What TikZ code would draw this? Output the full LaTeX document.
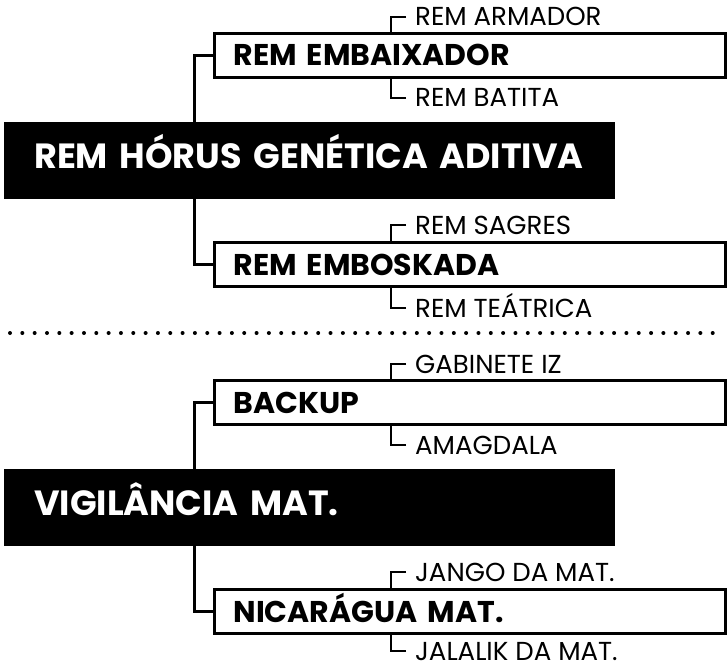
\documentclass[tikz,border=0pt]{standalone}
\usepackage{fontspec}
\setmainfont{Poppins}

\begin{document}
\begin{tikzpicture}[x=1pt,y=-1pt,
    root/.style={fill=black,text=white,anchor=west,align=left,
        font=\bfseries\fontsize{35}{35}\selectfont,
        minimum height=77pt,text width=551pt,inner xsep=30pt,
        text height=24.5pt,text depth=8pt},
    branch/.style={draw,line width=3pt,anchor=west,align=left,
        font=\bfseries\fontsize{30}{30}\selectfont,
        minimum height=44pt,text width=472pt,inner xsep=19.5pt,
        text height=21pt,text depth=0pt},
    leaf/.style={anchor=west,inner sep=0pt,
        font=\fontsize{26}{26}\selectfont,
        text height=18pt,text depth=0pt},
    link/.style={line width=3pt},
    tick/.style={line width=2.5pt},
    sep/.style={line width=4pt,line cap=round,dash pattern=on 0pt off 12.328pt}]
    \useasboundingbox (0,0) rectangle (727,668);

    \coordinate (trunk) at (194,0);
    \coordinate (fork) at (391,0);

    % first group
    \node[root] (horus) at (4,160.5) {\mbox{REM HÓRUS GENÉTICA ADITIVA}};
    \node[branch] (embaixador) at (212.5,55.5) {REM EMBAIXADOR};
    \node[branch] (emboskada) at (212.5,264.5) {REM EMBOSKADA};
    \node[leaf] (armador) at (415,17) {REM ARMADOR};
    \node[leaf] (batita) at (415,98) {REM BATITA};
    \node[leaf] (sagres) at (415,225) {REM SAGRES};
    \node[leaf] (teatrica) at (415,308) {REM TEÁTRICA};

    \draw[link] (horus.north -| trunk) |- (embaixador.west);
    \draw[link] (horus.south -| trunk) |- (emboskada.west);
    \draw[tick] ([xshift=-9pt]armador.west) -| (embaixador.north -| fork);
    \draw[tick] ([xshift=-9pt]batita.west) -| (embaixador.south -| fork);
    \draw[tick] ([xshift=-9pt]sagres.west) -| (emboskada.north -| fork);
    \draw[tick] ([xshift=-9pt]teatrica.west) -| (emboskada.south -| fork);

    % separator
    \coordinate (sepL) at (10,333);
    \coordinate (sepR) at (725,333);
    \draw[sep] (sepL) -- (sepR);

    % second group
    \node[root] (vigilancia) at (4,507.5) {VIGILÂNCIA MAT.};
    \node[branch] (backup) at (212.5,402.5) {BACKUP};
    \node[branch] (nicaragua) at (212.5,611.5) {NICARÁGUA MAT.};
    \node[leaf] (gabinete) at (415,364) {GABINETE IZ};
    \node[leaf] (amagdala) at (415,445) {AMAGDALA};
    \node[leaf] (jango) at (415,572) {JANGO DA MAT.};
    \node[leaf] (jalalik) at (415,651) {JALALIK DA MAT.};

    \draw[link] (vigilancia.north -| trunk) |- (backup.west);
    \draw[link] (vigilancia.south -| trunk) |- (nicaragua.west);
    \draw[tick] ([xshift=-9pt]gabinete.west) -| (backup.north -| fork);
    \draw[tick] ([xshift=-9pt]amagdala.west) -| (backup.south -| fork);
    \draw[tick] ([xshift=-9pt]jango.west) -| (nicaragua.north -| fork);
    \draw[tick] ([xshift=-9pt]jalalik.west) -| (nicaragua.south -| fork);
\end{tikzpicture}
\end{document}
